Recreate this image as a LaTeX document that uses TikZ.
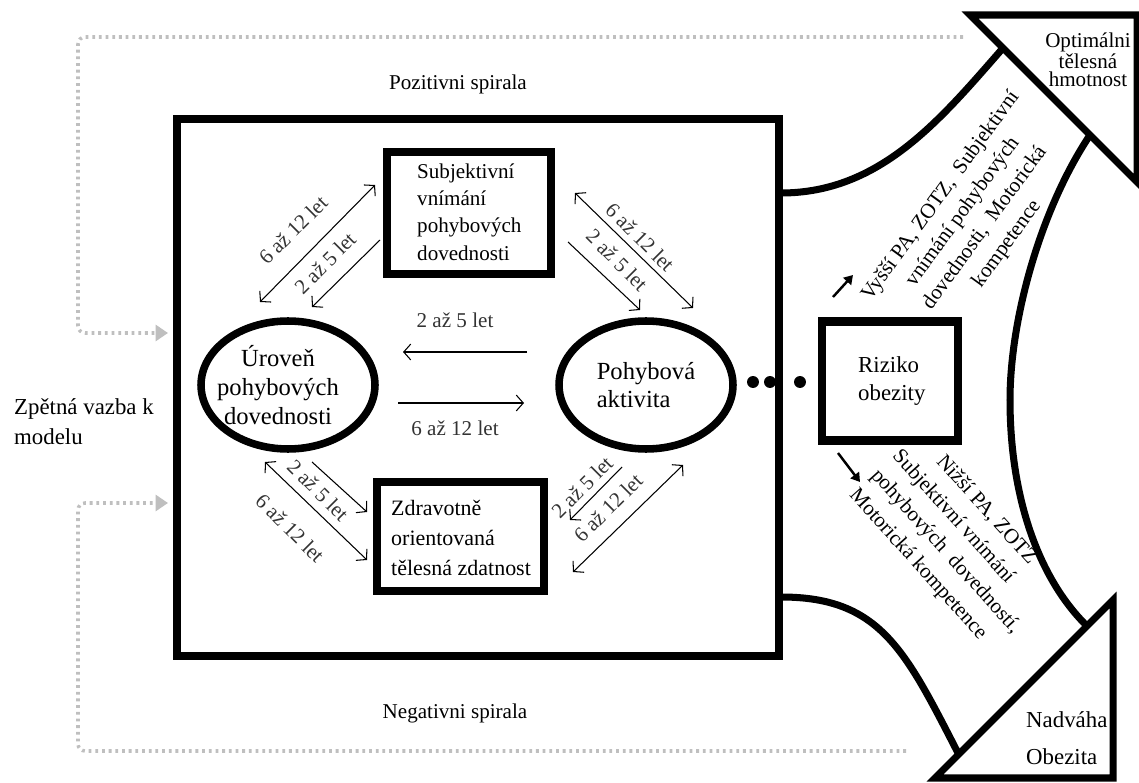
\documentclass[tikz,border=0pt]{standalone}
\usepackage{fontspec}
\setmainfont{Liberation Serif}
\usetikzlibrary{shapes.geometric, arrows.meta, positioning}

\tikzset{
  bigbox/.style={draw, line width=4.6pt, inner sep=0pt},
  oval/.style={draw, ellipse, line width=4.3pt, minimum width=3.48cm, minimum height=2.56cm, inner sep=0pt},
  funnel/.style={line width=4pt},
  lbl/.style={font=\fontsize{12}{14}\selectfont, text=black!80, inner sep=1pt},
  twoway/.style={{Straight Barb[length=4pt,width=9pt]}-{Straight Barb[length=4pt,width=9pt]}, line width=0.6pt},
  oneway/.style={-{Straight Barb[length=4pt,width=9pt]}, line width=0.6pt},
  feedback/.style={gray!50, line width=2pt, dash pattern=on 1.6pt off 2.2pt, rounded corners=4pt, -{Triangle[length=7pt,width=9pt]}},
  bigarrow/.style={-{Triangle[length=5pt,width=6pt]}, line width=1.4pt}
}

\begin{document}
\begin{tikzpicture}[x=0.02cm, y=-0.02cm]
\useasboundingbox (0,0) rectangle (1139,783);

% feedback to the model
\coordinate (fbA) at (963,37);
\coordinate (fbB) at (168,333);
\coordinate (fbC) at (906,751);
\coordinate (fbD) at (168,503);
\draw[feedback] (fbA) -- (78,37) -- (78,333) -- (fbB);
\draw[feedback] (fbC) -- (78,751) -- (78,503) -- (fbD);
\node[font=\fontsize{13}{17}\selectfont, align=left, anchor=west] (zpet) at (8,422) {Zpětná vazba k\\modelu};

% main box
\node[bigbox, minimum width=12.06cm, minimum height=10.74cm] (model) at (478,387.5) {};
\node[font=\fontsize{12}{14}\selectfont] (pozit) at (458,84) {Pozitivni spirala};
\node[font=\fontsize{12}{14}\selectfont] (negat) at (455,713) {Negativni spirala};

% boxes and ovals
\node[bigbox, minimum width=3.28cm, minimum height=2.44cm] (vnimani) at (469,213) {};
\node[font=\fontsize{12}{15.5}\selectfont, align=left, anchor=west] (vnimtxt) at (411,212) {Subjektivní\\vnímání\\pohybových\\dovednosti};

\node[bigbox, minimum width=3.34cm, minimum height=2.18cm] (zdatnost) at (460.5,536.5) {};
\node[font=\fontsize{12.5}{17}\selectfont, align=left, anchor=west] (zdattxt) at (385,538) {Zdravotně\\orientovaná\\tělesná zdatnost};

\node[oval] (uroven) at (288,385) {};
\node[font=\fontsize{14}{16.5}\selectfont, align=center] (urovtxt) at (278,385) {Úroveň\\pohybových\\dovednosti};
\node[oval, font=\fontsize{14}{16}\selectfont, align=left] (aktivita) at (646,385) {Pohybová\\aktivita};

\node[bigbox, minimum width=2.72cm, minimum height=2.38cm] (riziko) at (890,381) {};
\node[font=\fontsize{13}{16}\selectfont, align=left, anchor=west] (riztxt) at (852,381) {Riziko\\obezity};

\fill (753,382) circle[radius=3.4pt];
\fill (770,382) circle[radius=3.4pt];
\fill (800,382) circle[radius=3.4pt];

% between the ovals
\coordinate (h1) at (527,352);
\coordinate (h2) at (403,352);
\coordinate (h3) at (398,403);
\coordinate (h4) at (524,403);
\draw[oneway] (h1) -- (h2);
\draw[oneway] (h3) -- (h4);
\node[lbl] at (455,320) {2 až 5 let};
\node[lbl] at (455,428) {6 až 12 let};

% top left
\coordinate (a1) at (260,302);
\coordinate (a2) at (375,185);
\coordinate (a3) at (380,240);
\coordinate (a4) at (312,307);
\draw[twoway] (a1) -- (a2);
\draw[oneway] (a3) -- (a4);
\node[lbl, rotate=45] at (293,230) {6 až 12 let};
\node[lbl, rotate=45] at (325,263) {2 až 5 let};

% top right
\coordinate (b1) at (575,193);
\coordinate (b2) at (693,308);
\coordinate (b3) at (568,242);
\coordinate (b4) at (640,310);
\draw[twoway] (b1) -- (b2);
\draw[oneway] (b3) -- (b4);
\node[lbl, rotate=-45] at (640,237) {6 až 12 let};
\node[lbl, rotate=-45] at (617,260) {2 až 5 let};

% bottom left
\coordinate (c1) at (265,462);
\coordinate (c2) at (367,560);
\coordinate (c3) at (312,462);
\coordinate (c4) at (367,512);
\draw[twoway] (c1) -- (c2);
\draw[oneway] (c3) -- (c4);
\node[lbl, rotate=-45] at (318,490) {2 až 5 let};
\node[lbl, rotate=-45] at (290,528) {6 až 12 let};

% bottom right
\coordinate (d1) at (622,467);
\coordinate (d2) at (570,520);
\coordinate (d3) at (683,465);
\coordinate (d4) at (573,572);
\draw[oneway] (d1) -- (d2);
\draw[twoway] (d3) -- (d4);
\node[lbl, rotate=45] at (582,487) {2 až 5 let};
\node[lbl, rotate=45] at (608,508) {6 až 12 let};

% funnel
\draw[funnel] (781,193) .. controls (880,193) and (940,120) .. (1003,48);
\draw[funnel] (781,597) .. controls (880,597) and (905,650) .. (958,753);
\draw[funnel] (1090,135) .. controls (1040,210) and (1010,320) .. (1010,400) .. controls (1010,500) and (1040,580) .. (1087,626);
\draw[funnel] (970,15) -- (1137,15) -- (1137,182) -- cycle;
\draw[funnel] (935,778) -- (1113,600) -- (1113,778) -- cycle;

\node[font=\fontsize{12}{10}\selectfont, align=center] (optim) at (1088,60) {Optimálni\\tělesná\\hmotnost};
\node[font=\fontsize{13}{21}\selectfont, align=left, anchor=west] (nadvaha) at (1020,738) {Nadváha\\Obezita};

\coordinate (e1) at (833,297);
\coordinate (e2) at (853,275);
\coordinate (e3) at (838,453);
\coordinate (e4) at (860,482);
\draw[bigarrow] (e1) -- (e2);
\draw[bigarrow] (e3) -- (e4);
\node[font=\fontsize{12}{15.5}\selectfont, align=center, rotate=54] (vyssi) at (974,220) {Vyšší PA, ZOTZ,\ \ Subjektivní\\vnímání pohybových\\dovednosti,\ \ Motorická\\kompetence};
\node[font=\fontsize{12}{16.5}\selectfont, align=left, rotate=-48] (nizsi) at (956,542) {\hspace*{19pt}Nižší PA, ZOTZ\\Subjektivní vnímání\\pohybových\ \ dovedností,\\Motorická kompetence};
\end{tikzpicture}
\end{document}
